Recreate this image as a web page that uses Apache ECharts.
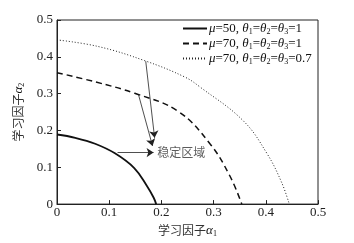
<!DOCTYPE html>
<html>
<head>
    <meta charset="UTF-8">
    <title>稳定区域</title>
    <script src="https://cdn.jsdelivr.net/npm/echarts/dist/echarts.min.js"></script>
    <style>
        html, body { margin: 0; padding: 0; background: #fff; }
        #main { width: 354px; height: 243px; }
    </style>
</head>
<body>
    <div id="main"></div>
    <script type="text/javascript">
        // curves: [alpha1, alpha2]
        var seriesNames = ['mu50', 'mu70', 'mu70b'];
        var curveMu50 = [[0, 0.189], [0.035, 0.180], [0.073, 0.164], [0.111, 0.138], [0.148, 0.098], [0.172, 0.050], [0.185, 0.018], [0.190, 0]];
        var curveMu70 = [[0, 0.357], [0.073, 0.332], [0.149, 0.301], [0.232, 0.252], [0.293, 0.164], [0.331, 0.077], [0.354, 0]];
        var curveMu70b = [[0, 0.446], [0.079, 0.428], [0.169, 0.389], [0.245, 0.345], [0.274, 0.318], [0.357, 0.226], [0.402, 0.138], [0.430, 0.060], [0.445, 0]];
        // arrows: from -> to
        var arrows = [
            [[0.170, 0.388], [0.187, 0.180]],
            [[0.156, 0.298], [0.183, 0.158]],
            [[0.116, 0.140], [0.185, 0.140]]
        ];
        var regionLabel = [[0.188, 0.140]];

        var font = '"Liberation Serif", "Noto Sans CJK SC", serif';
        var cjk = '"Noto Sans CJK SC", "Liberation Serif", serif';

        var rich = {
            t: { fontFamily: font, fontSize: 13, color: '#111', lineHeight: 15, verticalAlign: 'middle' },
            i: { fontFamily: font, fontSize: 13, fontStyle: 'italic', color: '#111', lineHeight: 15, verticalAlign: 'middle' },
            s: { fontFamily: font, fontSize: 8, color: '#111', lineHeight: 7, verticalAlign: 'bottom' },
            c: { fontFamily: cjk, fontSize: 12, color: '#333', lineHeight: 15, verticalAlign: 'middle' }
        };
        var legendText = {
            mu50: '{i|μ}{t|=50, }{i|θ}{s|1}{t|=}{i|θ}{s|2}{t|=}{i|θ}{s|3}{t|=1}',
            mu70: '{i|μ}{t|=70, }{i|θ}{s|1}{t|=}{i|θ}{s|2}{t|=}{i|θ}{s|3}{t|=1}',
            mu70b: '{i|μ}{t|=70, }{i|θ}{s|1}{t|=}{i|θ}{s|2}{t|=}{i|θ}{s|3}{t|=0.7}'
        };

        var chart = echarts.init(document.getElementById('main'));
        var axisLine = { lineStyle: { color: '#222', width: 1 } };
        var option = {
            animation: false,
            backgroundColor: '#fff',
            grid: { left: 57, right: 36, top: 20, bottom: 34, show: true, borderColor: '#222', borderWidth: 1 },
            legend: {
                data: seriesNames,
                orient: 'vertical',
                left: 182,
                top: 22,
                padding: 0,
                itemWidth: 24,
                itemHeight: 10,
                itemGap: 1,
                itemStyle: { opacity: 0 },
                formatter: function (n) { return legendText[n]; },
                textStyle: { rich: rich, padding: [0, 0, 0, -3] }
            },
            xAxis: {
                type: 'value', min: 0, max: 0.5, interval: 0.1,
                name: '{c|学习因子}{i|α}{s|1}',
                nameLocation: 'middle', nameGap: 14,
                nameTextStyle: { rich: rich },
                axisLine: axisLine,
                axisTick: { inside: true, length: 4, lineStyle: { color: '#222' } },
                axisLabel: { fontFamily: font, fontSize: 13, color: '#222', margin: 2,
                    formatter: function (v) { return v === 0 ? '0' : v.toFixed(1); } },
                splitLine: { show: false }
            },
            yAxis: {
                type: 'value', min: 0, max: 0.5, interval: 0.1,
                name: '{c|学习因子}{i|α}{s|2}',
                nameLocation: 'middle', nameGap: 30,
                nameTextStyle: { rich: rich },
                axisLine: axisLine,
                axisTick: { inside: true, length: 4, lineStyle: { color: '#222' } },
                axisLabel: { fontFamily: font, fontSize: 13, color: '#222', margin: 4,
                    formatter: function (v) { return v === 0 ? '0' : v.toFixed(1); } },
                splitLine: { show: false }
            },
            series: [
                { name: 'mu50', type: 'line', data: curveMu50, smooth: 0.4, symbol: 'none',
                  lineStyle: { color: '#111', width: 1.8, type: 'solid' } },
                { name: 'mu70', type: 'line', data: curveMu70, smooth: 0.4, symbol: 'none',
                  lineStyle: { color: '#111', width: 1.5, type: [6, 4] } },
                { name: 'mu70b', type: 'line', data: curveMu70b, smooth: 0.4, symbol: 'none',
                  lineStyle: { color: '#222', width: 1, type: [1, 2] } },
                { type: 'lines', coordinateSystem: 'cartesian2d', silent: true,
                  symbol: ['none', 'arrow'], symbolSize: 7,
                  lineStyle: { color: '#222', width: 0.8, opacity: 1 },
                  data: arrows.map(function (a) { return { coords: a }; }) },
                { type: 'scatter', data: regionLabel, symbolSize: 0, silent: true,
                  label: { show: true, position: 'right', distance: 2, formatter: '稳定区域',
                      fontFamily: cjk, fontSize: 12, color: '#333' } }
            ]
        };
        chart.setOption(option);
    </script>
</body>
</html>
